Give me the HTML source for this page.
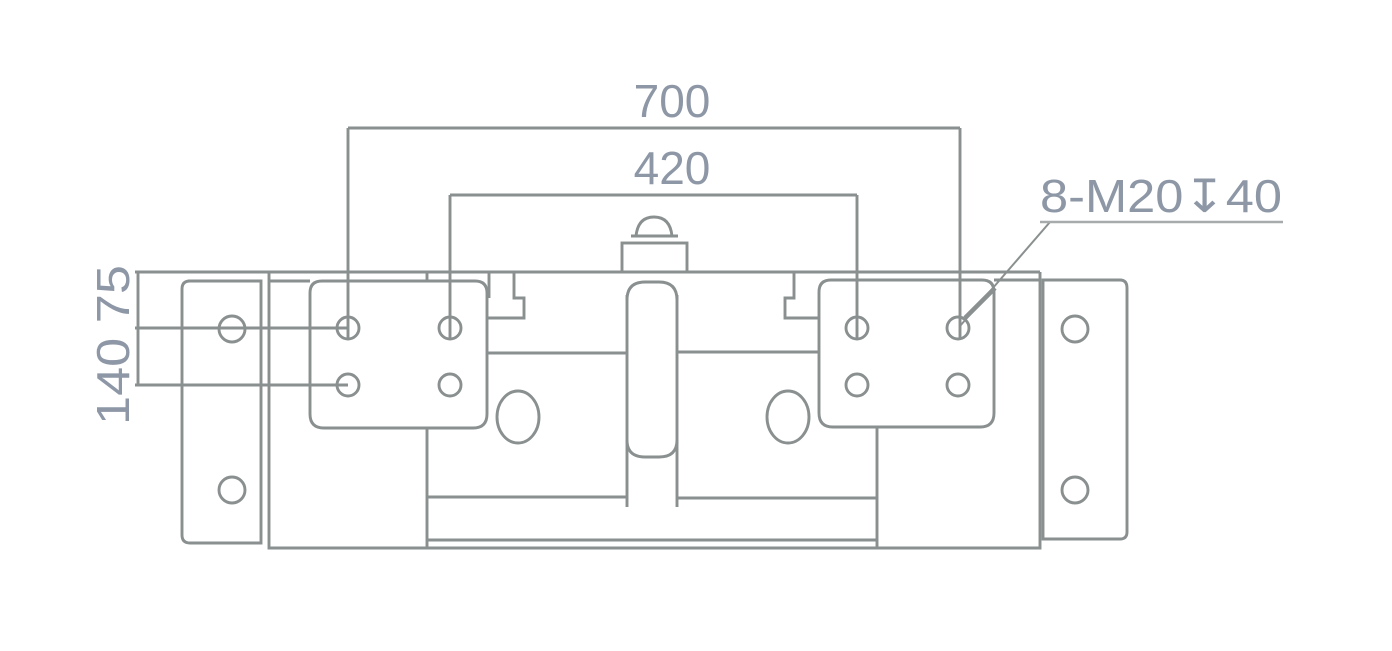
<!DOCTYPE html>
<html><head><style>
html,body{margin:0;padding:0;background:#fff;}
svg{display:block;}
text{font-family:"Liberation Sans","DejaVu Sans",sans-serif;fill:#8d97a6;}
</style></head><body>
<svg width="1392" height="651" viewBox="0 0 1392 651" xmlns="http://www.w3.org/2000/svg">
<g fill="none" stroke="#8a8f8f" stroke-width="2.9">
<line x1="135" y1="272" x2="1040" y2="272"/>
<path d="M188 281 H261 V543 H190 Q182 543 182 535 V289 Q182 281 190 281"/>
<circle cx="232" cy="329" r="13"/>
<circle cx="232" cy="490" r="13"/>
<path d="M1043 280 H1120 Q1127 280 1127 288 V532 Q1127 539 1120 539 H1043 Z"/>
<circle cx="1075" cy="329" r="13"/>
<circle cx="1075" cy="490" r="13"/>
<path d="M269 272 V548 H1040 V272"/>
<line x1="427" y1="540" x2="877" y2="540"/>
<line x1="427" y1="428" x2="427" y2="548"/>
<line x1="427" y1="272" x2="427" y2="281"/>
<line x1="877" y1="427" x2="877" y2="548"/>
<line x1="269" y1="281" x2="310" y2="281"/>
<line x1="994" y1="280" x2="1040" y2="280"/>
<path d="M322 281 H475 Q487 281 487 293 V414 Q487 428 473 428 H324 Q310 428 310 414 V293 Q310 281 322 281"/>
<path d="M831 280 H982 Q994 280 994 292 V413 Q994 427 980 427 H833 Q819 427 819 413 V292 Q819 280 831 280"/>
<path d="M489 272 V298"/>
<path d="M514 272 V298 H524 V318 H487"/>
<path d="M794 272 V298 H785 V318 H819"/>
<line x1="487" y1="353" x2="627" y2="353"/>
<line x1="677" y1="352" x2="819" y2="352"/>
<path d="M427 497 H627"/>
<path d="M677 498 H877"/>
<line x1="627" y1="295" x2="627" y2="507"/>
<line x1="677" y1="295" x2="677" y2="507"/>
<path d="M627 300 Q627 282 645 282 H659 Q677 282 677 300"/>
<path d="M627 440 Q627 457 645 457 H659 Q677 457 677 440"/>
<rect x="622" y="243" width="65" height="29"/>
<line x1="631" y1="236" x2="678" y2="236"/>
<path d="M636 236 Q638 217 654 217 Q670 217 672 236"/>
<ellipse cx="518" cy="417" rx="21" ry="26"/>
<ellipse cx="788" cy="417" rx="21" ry="26"/>
<circle cx="348" cy="328" r="11"/><circle cx="450" cy="328" r="11"/>
<circle cx="348" cy="385" r="11"/><circle cx="450" cy="385" r="11"/>
<circle cx="857" cy="328" r="11"/><circle cx="958" cy="328" r="11"/>
<circle cx="857" cy="385" r="11"/><circle cx="958" cy="385" r="11"/>
<line x1="348" y1="128" x2="960" y2="128"/>
<line x1="348" y1="128" x2="348" y2="338"/>
<line x1="960" y1="128" x2="960" y2="338"/>
<line x1="450" y1="195" x2="857" y2="195"/>
<line x1="450" y1="195" x2="450" y2="338"/>
<line x1="857" y1="195" x2="857" y2="338"/>
<line x1="138" y1="272" x2="138" y2="385"/>
<line x1="135" y1="328" x2="348" y2="328"/>
<line x1="135" y1="385" x2="348" y2="385"/>
<line x1="1050" y1="222" x2="960" y2="326" stroke-width="2"/>
<line x1="1040" y1="222" x2="1283" y2="222" stroke="#a8abab" stroke-width="2.5"/>
<line x1="995" y1="288" x2="965" y2="318" stroke-width="4.5"/>
</g>
<text x="672" y="117" font-size="46" text-anchor="middle">700</text>
<text x="672" y="184" font-size="46" text-anchor="middle">420</text>
<text x="1040" y="212" font-size="46" textLength="242" lengthAdjust="spacingAndGlyphs">8-M20↧40</text>
<text transform="translate(129,425) rotate(-90)" font-size="46" textLength="160" lengthAdjust="spacingAndGlyphs">140 75</text>
</svg>
</body></html>
